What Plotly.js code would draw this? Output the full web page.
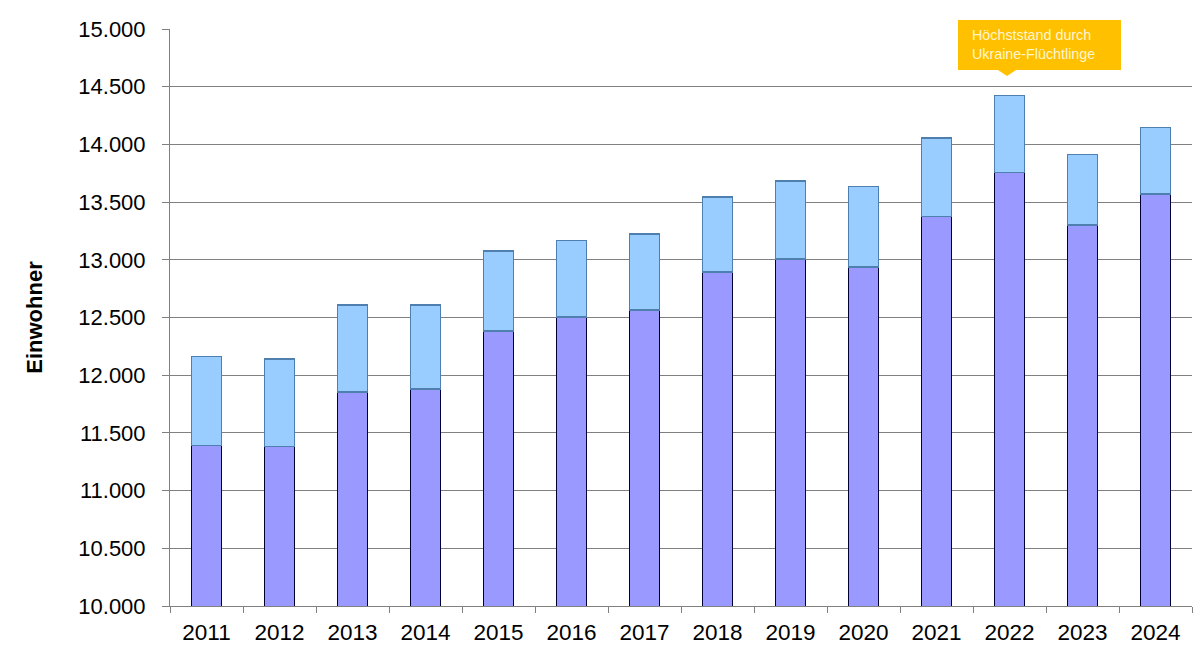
<!DOCTYPE html>
<html>
<head>
<meta charset="utf-8">
<script src="https://cdn.plot.ly/plotly-3.0.1.min.js"></script>
<style>html,body{margin:0;padding:0;background:#fff;}#chart{width:1200px;height:662px;}</style>
</head>
<body>
<div id="chart"></div>
<script>
var years = ['2011','2012','2013','2014','2015','2016','2017','2018','2019','2020','2021','2022','2023','2024'];
var baseValues = [11390, 11381, 11853, 11881, 12384, 12506, 12566, 12893, 13006, 12937, 13375, 13757, 13303, 13572];
var totalValues = [12161, 12141, 12610, 12610, 13078, 13167, 13225, 13543, 13685, 13635, 14055, 14424, 13913, 14147];
var yTicks = [10000, 10500, 11000, 11500, 12000, 12500, 13000, 13500, 14000, 14500, 15000];
var calloutText = 'Höchststand durch<br>Ukraine-Flüchtlinge';

var extraValues = totalValues.map(function(t, i){ return t - baseValues[i]; });

var traces = [
  {type:'bar', x: years, y: baseValues, name:'base',
   marker:{color:'#9999FF', line:{color:'#000033', width:1.5}}, hoverinfo:'y'},
  {type:'bar', x: years, y: extraValues, name:'extra',
   marker:{color:'#99CCFF', line:{color:'#4F7FAF', width:1.5}}, hoverinfo:'y'}
];

function px2x(p){ return (p - 170) / 1022; }
function px2y(p){ return (606 - p) / 577; }

var boxPath = 'M ' + px2x(958) + ' ' + px2y(20) +
  ' L ' + px2x(1121) + ' ' + px2y(20) +
  ' L ' + px2x(1121) + ' ' + px2y(70) +
  ' L ' + px2x(1016) + ' ' + px2y(70) +
  ' L ' + px2x(1007) + ' ' + px2y(76) +
  ' L ' + px2x(998) + ' ' + px2y(70) +
  ' L ' + px2x(958) + ' ' + px2y(70) + ' Z';

var layout = {
  width:1200, height:662,
  margin:{l:170, r:8, t:29, b:56},
  paper_bgcolor:'#ffffff', plot_bgcolor:'#ffffff',
  barmode:'stack', bargap:0.59,
  showlegend:false,
  separators:',.',
  font:{family:'Liberation Sans, Arial, sans-serif', color:'#000000'},
  xaxis:{type:'category', showline:true, linecolor:'#808080', linewidth:1,
    ticks:'outside', tickson:'boundaries', ticklen:6, tickcolor:'#808080',
    ticklabelstandoff:6,
    tickfont:{size:22.5, color:'#000'}, showgrid:false, zeroline:false, fixedrange:true},
  yaxis:{range:[10000,15000], tickvals:yTicks, tickformat:',d',
    showline:true, linecolor:'#808080', linewidth:1,
    ticks:'outside', ticklen:7, tickcolor:'#808080', ticklabelstandoff:12,
    showgrid:true, gridcolor:'#808080', gridwidth:1, zeroline:false,
    tickfont:{size:22, color:'#000'},
    title:{text:'<b>Einwohner</b>', font:{size:22, color:'#000'}, standoff:29}, fixedrange:true},
  shapes:[
    {type:'path', xref:'paper', yref:'paper', path: boxPath,
     fillcolor:'#FFC000', line:{width:0}, layer:'above'}
  ],
  annotations:[
    {xref:'paper', yref:'paper', x:px2x(970), y:px2y(45), xanchor:'left', yanchor:'middle',
     text: calloutText, showarrow:false, align:'left',
     font:{size:14.3, color:'#FFF6D0', family:'Liberation Sans, Arial, sans-serif'}}
  ]
};

Plotly.newPlot('chart', traces, layout, {displayModeBar:false, staticPlot:true});
</script>
</body>
</html>
